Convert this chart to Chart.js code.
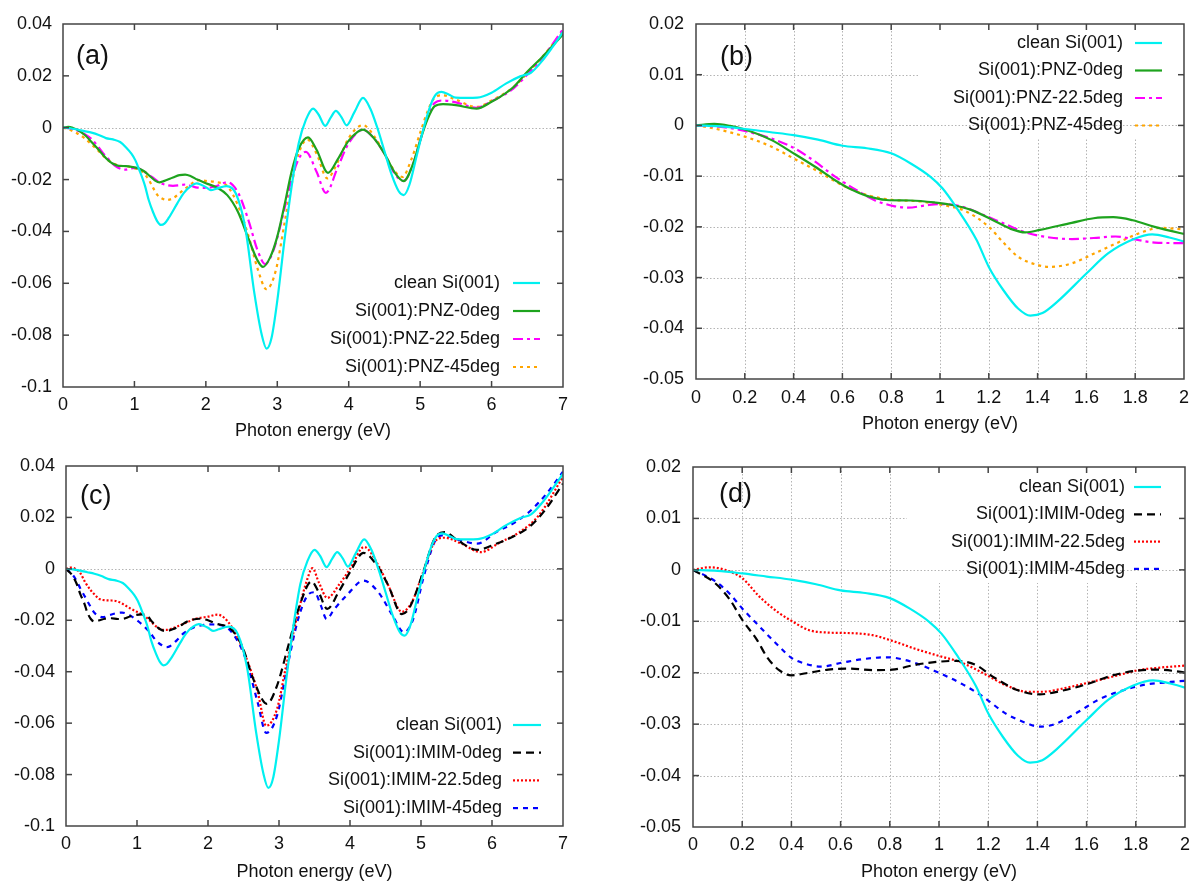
<!DOCTYPE html>
<html lang="en">

<head>
    <meta charset="UTF-8">
    <title>Si(001) RAS spectra</title>
    <script src="https://cdn.jsdelivr.net/npm/chart.js@4.4.0/dist/chart.umd.min.js"></script>
    <style>
        body { margin: 0; background: #fff; }
        .panel { position: absolute; }
        canvas { display: block; }
    </style>
</head>

<body>
    <div class="panel" style="left:0;top:0"><canvas id="pa" width="598" height="440" style="width:598px;height:440px"></canvas></div>
    <div class="panel" style="left:598px;top:0"><canvas id="pb" width="599" height="440" style="width:599px;height:440px"></canvas></div>
    <div class="panel" style="left:0;top:440px"><canvas id="pc" width="598" height="441" style="width:598px;height:441px"></canvas></div>
    <div class="panel" style="left:598px;top:440px"><canvas id="pd" width="599" height="441" style="width:599px;height:441px"></canvas></div>

    <script>
        // photon energy (eV) / RAS signal
        const cleanX = [0, 0.1, 0.2, 0.3, 0.4, 0.5, 0.6, 0.7, 0.8, 0.88, 0.96, 1.01, 1.07, 1.15, 1.2, 1.26, 1.32, 1.37, 1.42, 1.48, 1.6, 1.69, 1.79, 1.87, 1.94, 2.0, 2.07, 2.15, 2.29, 2.42, 2.55, 2.68, 2.78, 2.85, 2.92, 3.0, 3.1, 3.2, 3.3, 3.4, 3.5, 3.58, 3.67, 3.75, 3.82, 3.9, 3.97, 4.08, 4.2, 4.3, 4.4, 4.5, 4.6, 4.7, 4.77, 4.85, 4.95, 5.05, 5.15, 5.22, 5.3, 5.4, 5.5, 5.65, 5.8, 6.0, 6.2, 6.4, 6.55, 6.7, 6.85, 7.0];
        const cleanY = [0, -0.0002, -0.0007, -0.0013, -0.0019, -0.0028, -0.004, -0.0045, -0.0055, -0.0075, -0.0101, -0.0124, -0.0164, -0.0226, -0.0279, -0.0325, -0.0361, -0.0375, -0.037, -0.0348, -0.0292, -0.0252, -0.0225, -0.0215, -0.0221, -0.0229, -0.0241, -0.0235, -0.0225, -0.0254, -0.0383, -0.064, -0.0796, -0.0852, -0.081, -0.0667, -0.0435, -0.0228, -0.006, 0.003, 0.0074, 0.005, 0.0007, 0.004, 0.0065, 0.004, 0.0009, 0.006, 0.0115, 0.0075, 0.0, -0.009, -0.018, -0.0245, -0.026, -0.022, -0.011, 0.0, 0.009, 0.0128, 0.0138, 0.0128, 0.0116, 0.0115, 0.0116, 0.0135, 0.017, 0.0198, 0.0212, 0.0255, 0.031, 0.037];

        const pnz0X = [0, 0.075, 0.14, 0.2, 0.31, 0.4, 0.49, 0.57, 0.635, 0.7, 0.78, 0.88, 0.98, 1.04, 1.13, 1.23, 1.29, 1.35, 1.41, 1.54, 1.63, 1.71, 1.79, 1.88, 2.0, 2.15, 2.3, 2.45, 2.6, 2.72, 2.8, 2.9, 3.0, 3.1, 3.2, 3.3, 3.43, 3.55, 3.71, 3.85, 4.0, 4.2, 4.35, 4.5, 4.65, 4.77, 4.9, 5.0, 5.1, 5.2, 5.32, 5.5, 5.79, 6.0, 6.12, 6.3, 6.5, 6.7, 7.0];
        const pnz0Y = [0, 0.0003, -0.0001, -0.0008, -0.0029, -0.0055, -0.0082, -0.0108, -0.0126, -0.0139, -0.0147, -0.0148, -0.0152, -0.0156, -0.0167, -0.019, -0.0204, -0.0211, -0.0206, -0.0192, -0.0183, -0.0181, -0.0187, -0.02, -0.0214, -0.023, -0.026, -0.0325, -0.043, -0.051, -0.0537, -0.05, -0.042, -0.03, -0.017, -0.008, -0.0037, -0.0085, -0.0174, -0.012, -0.005, -0.0007, -0.004, -0.01, -0.0175, -0.0206, -0.014, -0.005, 0.003, 0.0082, 0.0091, 0.0087, 0.0074, 0.010, 0.0119, 0.0155, 0.0216, 0.027, 0.036];

        const pnz22X = [0, 0.12, 0.2, 0.31, 0.4, 0.49, 0.57, 0.67, 0.73, 0.81, 0.87, 0.95, 1.01, 1.09, 1.16, 1.26, 1.35, 1.45, 1.54, 1.63, 1.72, 1.8, 1.88, 2.0, 2.15, 2.3, 2.45, 2.6, 2.72, 2.83, 2.95, 3.05, 3.2, 3.3, 3.4, 3.55, 3.68, 3.85, 4.0, 4.2, 4.35, 4.5, 4.65, 4.77, 4.9, 5.0, 5.1, 5.2, 5.32, 5.5, 5.79, 6.0, 6.3, 6.5, 6.7, 7.0];
        const pnz22Y = [0, -0.0004, -0.0011, -0.0026, -0.0044, -0.0072, -0.0101, -0.0131, -0.0147, -0.0159, -0.0162, -0.0157, -0.0155, -0.016, -0.0173, -0.0193, -0.0211, -0.0221, -0.0224, -0.0222, -0.0219, -0.0225, -0.0231, -0.0232, -0.0225, -0.021, -0.025, -0.036, -0.047, -0.0526, -0.047, -0.037, -0.02, -0.012, -0.0093, -0.017, -0.0251, -0.015, -0.006, -0.0008, -0.004, -0.01, -0.018, -0.0205, -0.014, -0.005, 0.004, 0.0095, 0.0105, 0.0098, 0.0077, 0.0102, 0.015, 0.0205, 0.0265, 0.038];

        const pnz45X = [0, 0.075, 0.2, 0.31, 0.4, 0.49, 0.6, 0.7, 0.79, 0.92, 1.01, 1.1, 1.2, 1.26, 1.32, 1.4, 1.45, 1.54, 1.63, 1.72, 1.82, 1.9, 2.0, 2.15, 2.3, 2.45, 2.6, 2.72, 2.85, 2.98, 3.1, 3.2, 3.3, 3.42, 3.55, 3.7, 3.85, 4.0, 4.2, 4.35, 4.5, 4.65, 4.75, 4.88, 5.0, 5.1, 5.2, 5.32, 5.5, 5.79, 6.0, 6.3, 6.5, 6.7, 7.0];
        const pnz45Y = [0, -0.0006, -0.0022, -0.0042, -0.0065, -0.0088, -0.0118, -0.0137, -0.0146, -0.015, -0.0157, -0.0168, -0.02, -0.0231, -0.0259, -0.0275, -0.0279, -0.0272, -0.0253, -0.0233, -0.0212, -0.0202, -0.0205, -0.021, -0.0225, -0.03, -0.042, -0.054, -0.0623, -0.055, -0.037, -0.022, -0.01, -0.0045, -0.01, -0.0195, -0.013, -0.004, 0.001, -0.003, -0.01, -0.017, -0.019, -0.012, -0.002, 0.006, 0.0115, 0.0125, 0.0108, 0.008, 0.0105, 0.0155, 0.021, 0.027, 0.037];

        const imim0X = [0, 0.09, 0.15, 0.2, 0.26, 0.3, 0.35, 0.4, 0.46, 0.55, 0.64, 0.73, 0.81, 0.9, 0.99, 1.07, 1.15, 1.22, 1.32, 1.41, 1.5, 1.61, 1.7, 1.79, 1.88, 2.0, 2.1, 2.32, 2.48, 2.64, 2.83, 2.97, 3.13, 3.29, 3.46, 3.56, 3.68, 3.84, 4.0, 4.19, 4.38, 4.54, 4.73, 4.84, 5.03, 5.19, 5.33, 5.52, 5.79, 6.06, 6.33, 6.55, 6.77, 7.0];
        const imim0Y = [0, -0.0026, -0.0058, -0.0097, -0.0136, -0.0169, -0.0195, -0.0205, -0.0201, -0.0194, -0.0192, -0.0195, -0.0194, -0.0185, -0.0179, -0.0177, -0.0185, -0.0208, -0.0234, -0.0242, -0.0235, -0.0221, -0.0206, -0.0197, -0.0194, -0.02, -0.0212, -0.0234, -0.03, -0.043, -0.0525, -0.0456, -0.03, -0.0143, -0.0049, -0.0091, -0.0156, -0.009, -0.0013, 0.0062, 0.0013, -0.0065, -0.0176, -0.015, -0.0013, 0.0117, 0.0143, 0.011, 0.0074, 0.0098, 0.013, 0.0169, 0.0237, 0.0332];

        const imim22X = [0, 0.07, 0.13, 0.2, 0.27, 0.35, 0.4, 0.47, 0.55, 0.64, 0.73, 0.81, 0.9, 0.99, 1.09, 1.18, 1.27, 1.36, 1.42, 1.52, 1.61, 1.72, 1.81, 1.9, 2.0, 2.13, 2.32, 2.53, 2.7, 2.82, 2.97, 3.1, 3.27, 3.4, 3.47, 3.56, 3.68, 3.85, 4.0, 4.2, 4.4, 4.54, 4.73, 4.87, 5.03, 5.19, 5.33, 5.57, 5.84, 6.12, 6.39, 6.66, 7.0];
        const imim22Y = [0, 0.0005, 0, -0.0016, -0.0052, -0.0084, -0.0099, -0.0117, -0.0122, -0.0123, -0.0127, -0.0138, -0.0153, -0.0166, -0.018, -0.0201, -0.0224, -0.0237, -0.0237, -0.0229, -0.0219, -0.0206, -0.0195, -0.019, -0.0186, -0.0178, -0.022, -0.034, -0.048, -0.061, -0.0547, -0.0378, -0.0169, -0.0039, 0.0003, -0.0052, -0.0113, -0.006, 0, 0.0085, 0.0013, -0.0065, -0.0167, -0.013, -0.0013, 0.0104, 0.0121, 0.0098, 0.0065, 0.0104, 0.0143, 0.0208, 0.0358];

        const imim45X = [0, 0.09, 0.15, 0.2, 0.27, 0.35, 0.4, 0.46, 0.52, 0.61, 0.7, 0.79, 0.89, 0.98, 1.09, 1.18, 1.27, 1.35, 1.41, 1.47, 1.56, 1.65, 1.75, 1.84, 1.92, 2.0, 2.21, 2.37, 2.53, 2.7, 2.82, 2.97, 3.1, 3.27, 3.4, 3.5, 3.59, 3.67, 3.78, 3.95, 4.19, 4.4, 4.6, 4.76, 4.89, 5.03, 5.19, 5.3, 5.57, 5.79, 6.06, 6.33, 6.55, 6.77, 7.0];
        const imim45Y = [0, -0.0022, -0.0047, -0.0075, -0.011, -0.0149, -0.0171, -0.0183, -0.0188, -0.018, -0.0173, -0.017, -0.0179, -0.0196, -0.0221, -0.0247, -0.0279, -0.0297, -0.0305, -0.03, -0.0278, -0.0252, -0.0234, -0.0223, -0.0219, -0.0216, -0.0221, -0.026, -0.035, -0.052, -0.0638, -0.0573, -0.0404, -0.0195, -0.0104, -0.0091, -0.0143, -0.0195, -0.0156, -0.0104, -0.0046, -0.0091, -0.0182, -0.0247, -0.0195, -0.0039, 0.0104, 0.013, 0.011, 0.0098, 0.0143, 0.0182, 0.0228, 0.0293, 0.0378];

        const FONT = "'Liberation Sans', Arial, sans-serif";
        Chart.defaults.font.family = FONT;
        Chart.defaults.color = '#111';

        function pts(xs, ys) {
            return xs.map((x, i) => ({ x: x, y: ys[i] }));
        }

        function series(label, xs, ys, color, dash) {
            return {
                label: label,
                data: pts(xs, ys),
                borderColor: color,
                borderWidth: 2.2,
                borderDash: dash,
                pointRadius: 0,
                fill: false,
                cubicInterpolationMode: 'monotone'
            };
        }

        function pnzSets() {
            return [
                series('clean Si(001)', cleanX, cleanY, '#00f0f0', []),
                series('Si(001):PNZ-0deg', pnz0X, pnz0Y, '#1ea31e', []),
                series('Si(001):PNZ-22.5deg', pnz22X, pnz22Y, '#ff00ff', [10, 4, 3, 4]),
                series('Si(001):PNZ-45deg', pnz45X, pnz45Y, '#ffa500', [3, 4])
            ];
        }

        function imimSets() {
            return [
                series('clean Si(001)', cleanX, cleanY, '#00f0f0', []),
                series('Si(001):IMIM-0deg', imim0X, imim0Y, '#000000', [8, 5]),
                series('Si(001):IMIM-22.5deg', imim22X, imim22Y, '#ff0000', [2, 2]),
                series('Si(001):IMIM-45deg', imim45X, imim45Y, '#0000ff', [5, 5])
            ];
        }

        function fmt(v) {
            return String(Number(v.toFixed(3)));
        }

        function hline(ctx, x1, x2, y) {
            ctx.beginPath(); ctx.moveTo(x1, y); ctx.lineTo(x2, y); ctx.stroke();
        }
        function vline(ctx, x, y1, y2) {
            ctx.beginPath(); ctx.moveTo(x, y1); ctx.lineTo(x, y2); ctx.stroke();
        }

        // gnuplot-like frame, inward ticks, grid, panel tag and legend
        const framePlugin = {
            id: 'frame',
            beforeDatasetsDraw(chart, args, o) {
                const { ctx, chartArea: a, scales: { x, y } } = chart;
                ctx.save();
                ctx.lineWidth = 1;
                ctx.strokeStyle = '#b4b4b4';
                ctx.setLineDash([1.5, 2]);
                if (o.grid) {
                    x.ticks.forEach(t => {
                        const px = Math.round(x.getPixelForValue(t.value)) + 0.5;
                        if (px > a.left + 2 && px < a.right - 2) vline(ctx, px, a.top, a.bottom);
                    });
                    y.ticks.forEach(t => {
                        const py = Math.round(y.getPixelForValue(t.value)) + 0.5;
                        if (py > a.top + 2 && py < a.bottom - 2) hline(ctx, a.left, a.right, py);
                    });
                    ctx.fillStyle = '#fff';
                    ctx.fillRect(a.left + o.boxLeft, a.top + 1, a.right - a.left - o.boxLeft - 1, o.boxHeight);
                }
                const y0 = Math.round(y.getPixelForValue(0)) + 0.5;
                hline(ctx, a.left, a.right, y0);
                ctx.restore();
            },
            afterDatasetsDraw(chart, args, o) {
                const { ctx, chartArea: a, scales: { x, y } } = chart;
                ctx.save();
                ctx.strokeStyle = '#444';
                ctx.lineWidth = 1.5;
                ctx.setLineDash([]);
                ctx.strokeRect(a.left, a.top, a.right - a.left, a.bottom - a.top);
                const tl = 6;
                x.ticks.forEach(t => {
                    const px = x.getPixelForValue(t.value);
                    if (px > a.left + 2 && px < a.right - 2) {
                        vline(ctx, px, a.bottom, a.bottom - tl);
                        vline(ctx, px, a.top, a.top + tl);
                    }
                });
                y.ticks.forEach(t => {
                    const py = y.getPixelForValue(t.value);
                    if (py > a.top + 2 && py < a.bottom - 2) {
                        hline(ctx, a.left, a.left + tl, py);
                        hline(ctx, a.right, a.right - tl, py);
                    }
                });

                // panel tag
                ctx.fillStyle = '#111';
                ctx.font = '27px ' + FONT;
                ctx.textAlign = 'left';
                ctx.textBaseline = 'middle';
                ctx.fillText(o.tag, a.left + o.tagX, o.tagY);

                // key
                ctx.font = '18px ' + FONT;
                ctx.textAlign = 'right';
                chart.data.datasets.forEach((ds, i) => {
                    const ly = o.keyY + i * o.keyGap;
                    ctx.fillStyle = '#111';
                    ctx.fillText(ds.label, a.right - o.keyText, ly);
                    ctx.strokeStyle = ds.borderColor;
                    ctx.lineWidth = ds.borderWidth;
                    ctx.setLineDash(ds.borderDash);
                    hline(ctx, a.right - o.keyS1, a.right - o.keyS2, ly);
                });
                ctx.restore();
            }
        };

        function makeChart(id, sets, p) {
            const ctx = document.getElementById(id).getContext('2d');
            return new Chart(ctx, {
                type: 'line',
                data: { datasets: sets },
                plugins: [framePlugin],
                options: {
                    responsive: false,
                    animation: false,
                    events: [],
                    layout: { padding: { left: 0, top: p.top, right: p.right, bottom: 0 } },
                    scales: {
                        x: {
                            type: 'linear',
                            min: 0,
                            max: p.xMax,
                            border: { display: false },
                            grid: { display: false, drawTicks: false, tickLength: 0 },
                            ticks: {
                                stepSize: p.xStep,
                                padding: p.xPad,
                                font: { size: 18 },
                                color: '#111',
                                maxRotation: 0,
                                callback: v => fmt(v)
                            },
                            title: {
                                display: true,
                                text: 'Photon energy (eV)',
                                font: { size: 18, lineHeight: 1 },
                                color: '#111',
                                padding: { top: 0, bottom: p.titlePad }
                            },
                            afterFit: s => { s.height = p.xH; }
                        },
                        y: {
                            min: p.yMin,
                            max: p.yMax,
                            border: { display: false },
                            grid: { display: false, drawTicks: false, tickLength: 0 },
                            ticks: {
                                stepSize: p.yStep,
                                padding: p.yPad,
                                font: { size: 18 },
                                color: '#111',
                                callback: v => fmt(v)
                            },
                            afterFit: s => { s.width = p.yW; }
                        }
                    },
                    plugins: {
                        legend: { display: false },
                        tooltip: { enabled: false },
                        frame: p.frame
                    }
                }
            });
        }

        makeChart('pa', pnzSets(), {
            top: 24, right: 35, xH: 53, yW: 63, xPad: 7, yPad: 11, titlePad: 0,
            xMax: 7, xStep: 1, yMin: -0.1, yMax: 0.04, yStep: 0.02,
            frame: { grid: false, tag: '(a)', tagX: 13, tagY: 57, keyY: 283, keyGap: 28, keyText: 63, keyS1: 50, keyS2: 23 }
        });

        makeChart('pb', pnzSets(), {
            top: 24, right: 11, xH: 61, yW: 98, xPad: 8, yPad: 12, titlePad: 7,
            xMax: 2, xStep: 0.2, yMin: -0.05, yMax: 0.02, yStep: 0.01,
            frame: { grid: true, boxLeft: 222, boxHeight: 113, tag: '(b)', tagX: 24, tagY: 58, keyY: 43, keyGap: 27.5, keyText: 61, keyS1: 49, keyS2: 22 }
        });

        makeChart('pc', imimSets(), {
            top: 26, right: 35, xH: 55, yW: 66, xPad: 7, yPad: 11, titlePad: 0,
            xMax: 7, xStep: 1, yMin: -0.1, yMax: 0.04, yStep: 0.02,
            frame: { grid: false, tag: '(c)', tagX: 14, tagY: 57, keyY: 285, keyGap: 27.7, keyText: 61, keyS1: 50, keyS2: 22 }
        });

        makeChart('pd', imimSets(), {
            top: 27, right: 10, xH: 54, yW: 95, xPad: 7, yPad: 12, titlePad: 0,
            xMax: 2, xStep: 0.2, yMin: -0.05, yMax: 0.02, yStep: 0.01,
            frame: { grid: true, boxLeft: 214, boxHeight: 115, tag: '(d)', tagX: 26, tagY: 55, keyY: 47, keyGap: 27.3, keyText: 60, keyS1: 51, keyS2: 24 }
        });
    </script>
</body>

</html>
